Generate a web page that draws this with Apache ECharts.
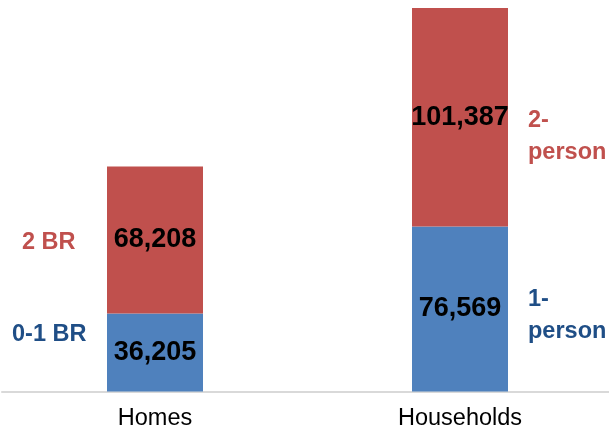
<!DOCTYPE html>
<html>
<head>
<meta charset="utf-8">
<script src="https://cdn.jsdelivr.net/npm/echarts@6/dist/echarts.min.js"></script>
<style>
  html, body { margin: 0; padding: 0; background: #fff; }
  #chart { width: 609px; height: 435px; }
</style>
</head>
<body>
<div id="chart"></div>
<script>
// Categories and stacked values
const categories = ['Homes', 'Households'];
const lowerValues = [36205, 76569];   // 0-1 BR homes / 1-person households
const upperValues = [68208, 101387];  // 2 BR homes / 2-person households

const BLUE = '#4F81BD';
const RED = '#C0504D';
const DARK_BLUE = '#1F4E86';
const FONT = '"Liberation Sans", Arial, sans-serif';

const totalMax = Math.max(...categories.map((_, i) => lowerValues[i] + upperValues[i]));

const valueLabel = {
  show: true,
  position: 'inside',
  color: '#000',
  fontFamily: FONT,
  fontWeight: 'bold',
  fontSize: 27,
  formatter: p => p.value.toLocaleString('en-US')
};

const chart = echarts.init(document.getElementById('chart'), null, { renderer: 'canvas' });

chart.setOption({
  animation: false,
  backgroundColor: '#fff',
  grid: [
    // bars: category points sit on the grid edges
    { left: 155, top: 8, right: 149, bottom: 43.5, containLabel: false },
    // full-width baseline
    { left: 2, top: 8, right: 0, bottom: 43.5, containLabel: false }
  ],
  xAxis: [
    {
      type: 'category',
      gridIndex: 0,
      data: categories,
      boundaryGap: false,
      axisLine: { show: false },
      axisTick: { show: false },
      splitLine: { show: false },
      axisLabel: { color: '#000', fontFamily: FONT, fontSize: 23.5, margin: 15 }
    },
    {
      type: 'category',
      gridIndex: 1,
      data: categories,
      axisLine: { show: true, lineStyle: { color: '#D9D9D9', width: 2 } },
      axisTick: { show: false },
      axisLabel: { show: false },
      z: 0
    }
  ],
  yAxis: [
    { type: 'value', gridIndex: 0, min: 0, max: totalMax, show: false, splitLine: { show: false } },
    { type: 'value', gridIndex: 1, min: 0, max: totalMax, show: false, splitLine: { show: false } }
  ],
  series: [
    {
      name: 'lower',
      type: 'bar',
      stack: 'total',
      barWidth: 96,
      data: lowerValues,
      itemStyle: { color: BLUE },
      label: valueLabel,
      z: 3
    },
    {
      name: 'upper',
      type: 'bar',
      stack: 'total',
      barWidth: 96,
      data: upperValues,
      itemStyle: { color: RED },
      label: valueLabel,
      z: 3
    }
  ],
  graphic: [
    { type: 'text', left: 22, top: 231, style: { text: '2 BR', fill: RED, font: 'bold 23.5px ' + FONT } },
    { type: 'text', left: 12, top: 323, style: { text: '0-1 BR', fill: DARK_BLUE, font: 'bold 23.5px ' + FONT } },
    { type: 'text', left: 528, top: 105, style: { text: '2-\nperson', fill: RED, font: 'bold 23.5px ' + FONT, lineHeight: 32 } },
    { type: 'text', left: 528, top: 284, style: { text: '1-\nperson', fill: DARK_BLUE, font: 'bold 23.5px ' + FONT, lineHeight: 32 } }
  ]
});
</script>
</body>
</html>
